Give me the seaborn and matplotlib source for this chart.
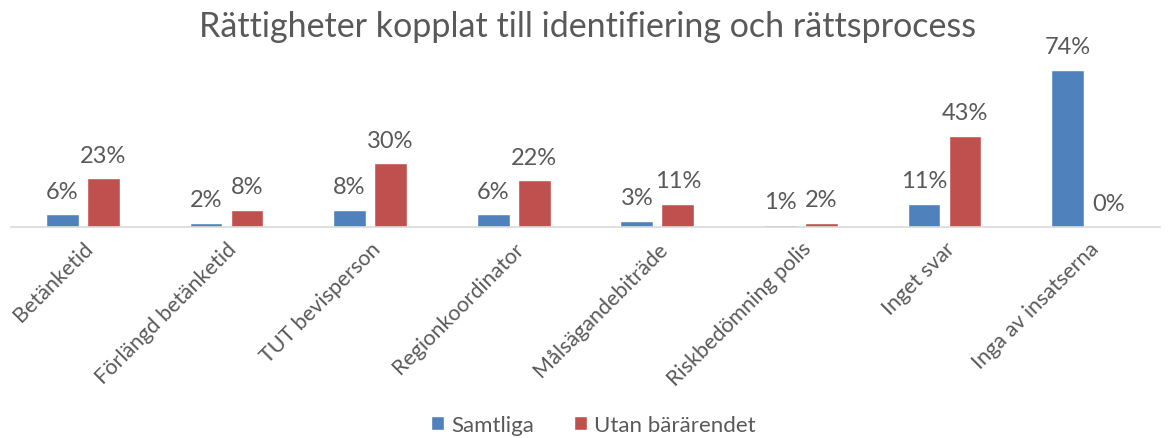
import pandas as pd
import seaborn as sns
import matplotlib.pyplot as plt

# Data
categories = ["Betänketid", "Förlängd betänketid", "TUT bevisperson", "Regionkoordinator",
              "Målsägandebiträde", "Riskbedömning polis", "Inget svar", "Inga av insatserna"]
samtliga = [6, 2, 8, 6, 3, 1, 11, 74]
utan_bar = [23, 8, 30, 22, 11, 2, 43, 0]
series_names = ["Samtliga", "Utan bärärendet"]
colors = ["#4F81BD", "#C0504D"]

TEXT = "#595959"

df = pd.DataFrame({
    "kategori": categories * 2,
    "serie": [series_names[0]] * len(categories) + [series_names[1]] * len(categories),
    "andel": samtliga + utan_bar,
})

sns.set_style("white")
plt.rcParams['font.family'] = ['Lato', 'DejaVu Sans']

fig = plt.figure(figsize=(11.75, 4.39), dpi=100)
W, H = 1175, 439
ax = fig.add_axes([11 / W, (H - 228) / H, (1160 - 11) / W, (228 - 58) / H])

sns.barplot(data=df, x="kategori", y="andel", hue="serie", palette=colors,
            saturation=1, width=0.57, gap=0.2, ax=ax, legend=True)

ax.set_ylim(0, 80)
ax.set_xlim(-0.5, len(categories) - 0.5)

# data labels
for cont in ax.containers:
    ax.bar_label(cont, labels=[f"{v:.0f}%" for v in cont.datavalues],
                 padding=9, fontsize=17, color=TEXT)

ax.set_xlabel("")
ax.set_ylabel("")
ax.set_yticks([])
for s in ["top", "right", "left"]:
    ax.spines[s].set_visible(False)
ax.spines["bottom"].set_color("#D9D9D9")
ax.spines["bottom"].set_linewidth(1.2)
ax.tick_params(axis="x", length=0, pad=8)
ax.set_xticks(range(len(categories)))
ax.set_xticklabels(categories, rotation=45, ha="right", rotation_mode="anchor",
                   fontsize=15.5, color=TEXT)

fig.text(0.5, 1 - 27 / H, "Rättigheter kopplat till identifiering och rättsprocess",
         ha="center", va="center", fontsize=24.5, color=TEXT)

handles, labels = ax.get_legend_handles_labels()
ax.get_legend().remove()
fig.legend(handles, labels, loc="center", bbox_to_anchor=(0.505, 1 - 426 / H), ncol=2,
           frameon=False, fontsize=16, labelcolor=TEXT, handlelength=0.6,
           handleheight=0.6, handletextpad=0.3, columnspacing=1.8)

fig.savefig("out.png", dpi=100)
